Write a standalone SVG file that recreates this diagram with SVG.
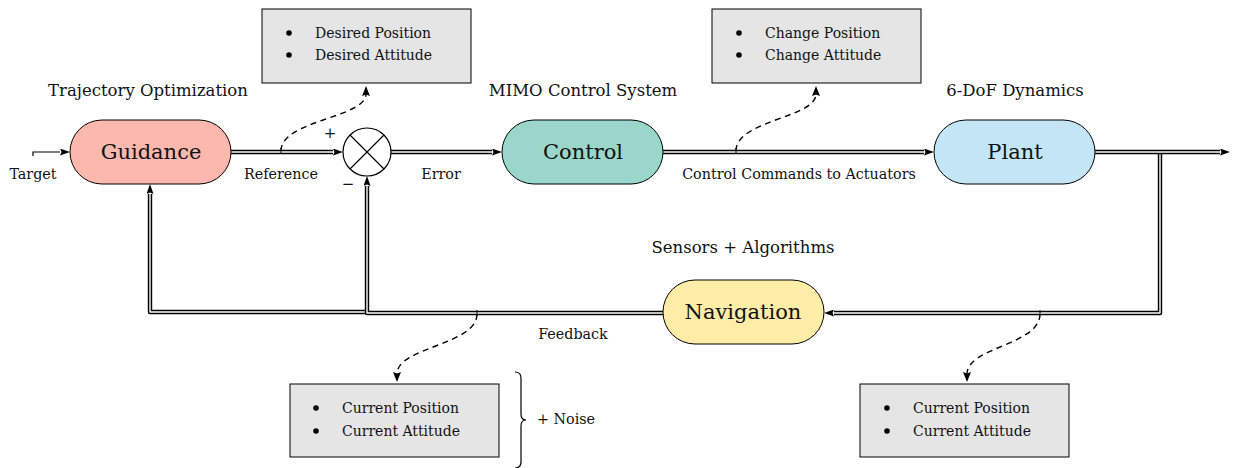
<svg xmlns="http://www.w3.org/2000/svg" width="1233" height="468" viewBox="0 0 1233 468">
<defs>
<marker id="arr" viewBox="0 0 10 7" markerWidth="10" markerHeight="7" refX="0" refY="3.5" orient="auto" markerUnits="userSpaceOnUse">
<path d="M0,0 L10,3.5 L0,7 L1.5,3.5 z" fill="#000"/>
</marker>
<marker id="darr" viewBox="0 0 10 8" markerWidth="10" markerHeight="8" refX="2" refY="4" orient="auto" markerUnits="userSpaceOnUse">
<path d="M0,0 L10,4 L0,8 L1.5,4 z" fill="#000"/>
</marker>
</defs>
<style>
text{font-family:"DejaVu Serif","Liberation Serif",serif;fill:#111}
.node{stroke:#000;stroke-width:1}
.nl{font-size:21px;text-anchor:middle}
.ttl{font-size:16.5px;text-anchor:middle}
.lbl{font-size:14.3px;text-anchor:middle}
.box{fill:#e5e5e5;stroke:#000;stroke-width:1}
.bt{font-size:14px}
.blk{fill:none;stroke:#000;stroke-width:4.4;stroke-linejoin:round}
.wht{fill:none;stroke:#fff;stroke-width:1.4;stroke-linejoin:round}
.dash{fill:none;stroke:#000;stroke-width:1.4;stroke-dasharray:6,4.5}
</style>

<g id="connectors">
<path d="M33,156 L33,152 L60,152" fill="none" stroke="#000" stroke-width="1.2" marker-end="url(#arr)"/>
<path class="blk" d="M367,312 L150,312 L150,194"/>
<path class="wht" d="M367,312 L150,312 L150,194" marker-end="url(#arr)"/>
<path class="blk" d="M663,313 L367,313 L367,186"/>
<path class="wht" d="M663,313 L367,313 L367,186" marker-end="url(#arr)"/>
<path class="blk" d="M1160,152 L1160,313 L834,313"/>
<path class="wht" d="M1160,152 L1160,313 L834,313" marker-end="url(#arr)"/>
<path class="blk" d="M231,152 L333,152"/>
<path class="wht" d="M231,152 L333,152" marker-end="url(#arr)"/>
<path class="blk" d="M391,152 L492,152"/>
<path class="wht" d="M391,152 L492,152" marker-end="url(#arr)"/>
<path class="blk" d="M663,152 L924,152"/>
<path class="wht" d="M663,152 L924,152" marker-end="url(#arr)"/>
<path class="blk" d="M1095,152 L1220,152"/>
<path class="wht" d="M1095,152 L1220,152" marker-end="url(#arr)"/>
<path class="dash" d="M281,151 C281,120 366,118 366,94" marker-end="url(#darr)"/>
<path class="dash" d="M736,151 C736,120 816,118 816,94" marker-end="url(#darr)"/>
<path class="dash" d="M477,314 C477,345 397,347 397,374" marker-end="url(#darr)"/>
<path class="dash" d="M1040,314 C1040,345 967,347 967,374" marker-end="url(#darr)"/>
<line x1="281" y1="148" x2="281" y2="154" stroke="#000" stroke-width="1"/>
<line x1="736" y1="148" x2="736" y2="154" stroke="#000" stroke-width="1"/>
<line x1="477" y1="310" x2="477" y2="316" stroke="#000" stroke-width="1"/>
<line x1="1040" y1="310" x2="1040" y2="316" stroke="#000" stroke-width="1"/>
</g>

<g id="guidance">
<rect class="node" x="70" y="120" width="161" height="64" rx="32" fill="#fdb8ae"/>
<text class="nl" x="151" y="159">Guidance</text>
</g>
<g id="control">
<rect class="node" x="502" y="120" width="161" height="64" rx="32" fill="#9ad6ca"/>
<text class="nl" x="583" y="159">Control</text>
</g>
<g id="plant">
<rect class="node" x="934" y="120" width="161" height="64" rx="32" fill="#c3e5f6"/>
<text class="nl" x="1015" y="159">Plant</text>
</g>
<g id="navigation">
<rect class="node" x="663" y="280" width="161" height="64" rx="32" fill="#ffeca7"/>
<text class="nl" x="743" y="319">Navigation</text>
</g>
<g id="sum">
<circle cx="367" cy="152" r="24" fill="#fff" stroke="#000" stroke-width="1.2"/>
<path d="M350,135 L384,169 M384,135 L350,169" stroke="#000" stroke-width="1.2"/>
<text x="330" y="138" font-size="15" text-anchor="middle">+</text>
<text x="348" y="189" font-size="15" text-anchor="middle">−</text>
</g>

<g id="labels">
<text class="ttl" x="148" y="96">Trajectory Optimization</text>
<text class="ttl" x="583" y="96">MIMO Control System</text>
<text class="ttl" x="1015" y="96">6-DoF Dynamics</text>
<text class="ttl" x="743" y="253">Sensors + Algorithms</text>
<text class="lbl" x="33" y="179">Target</text>
<text class="lbl" x="281" y="179">Reference</text>
<text class="lbl" x="441" y="179">Error</text>
<text class="lbl" x="799" y="179">Control Commands to Actuators</text>
<text class="lbl" x="573" y="339">Feedback</text>
</g>

<g id="box-desired">
<rect class="box" x="262" y="9" width="209" height="74"/>
<circle cx="289" cy="33" r="2.8" fill="#000"/>
<circle cx="289" cy="55" r="2.8" fill="#000"/>
<text class="bt" x="315" y="37.5">Desired Position</text>
<text class="bt" x="315" y="60">Desired Attitude</text>
</g>
<g id="box-change">
<rect class="box" x="712" y="9" width="209" height="74"/>
<circle cx="739" cy="33" r="2.8" fill="#000"/>
<circle cx="739" cy="55" r="2.8" fill="#000"/>
<text class="bt" x="765" y="37.5">Change Position</text>
<text class="bt" x="765" y="60">Change Attitude</text>
</g>
<g id="box-current-1">
<rect class="box" x="290" y="384" width="209" height="73"/>
<circle cx="316" cy="408" r="2.8" fill="#000"/>
<circle cx="316" cy="431" r="2.8" fill="#000"/>
<text class="bt" x="342" y="412.5">Current Position</text>
<text class="bt" x="342" y="435.5">Current Attitude</text>
</g>
<g id="box-current-2">
<rect class="box" x="860" y="384" width="209" height="73"/>
<circle cx="887" cy="408" r="2.8" fill="#000"/>
<circle cx="887" cy="431" r="2.8" fill="#000"/>
<text class="bt" x="913" y="412.5">Current Position</text>
<text class="bt" x="913" y="435.5">Current Attitude</text>
</g>
<g id="noise">
<path d="M515,372 Q521,372 521,378 L521,414 Q521,420 526,420 Q521,420 521,426 L521,462 Q521,468 515,468" fill="none" stroke="#000" stroke-width="1.2"/>
<text x="537" y="424" font-size="14.3">+ Noise</text>
</g>
</svg>
